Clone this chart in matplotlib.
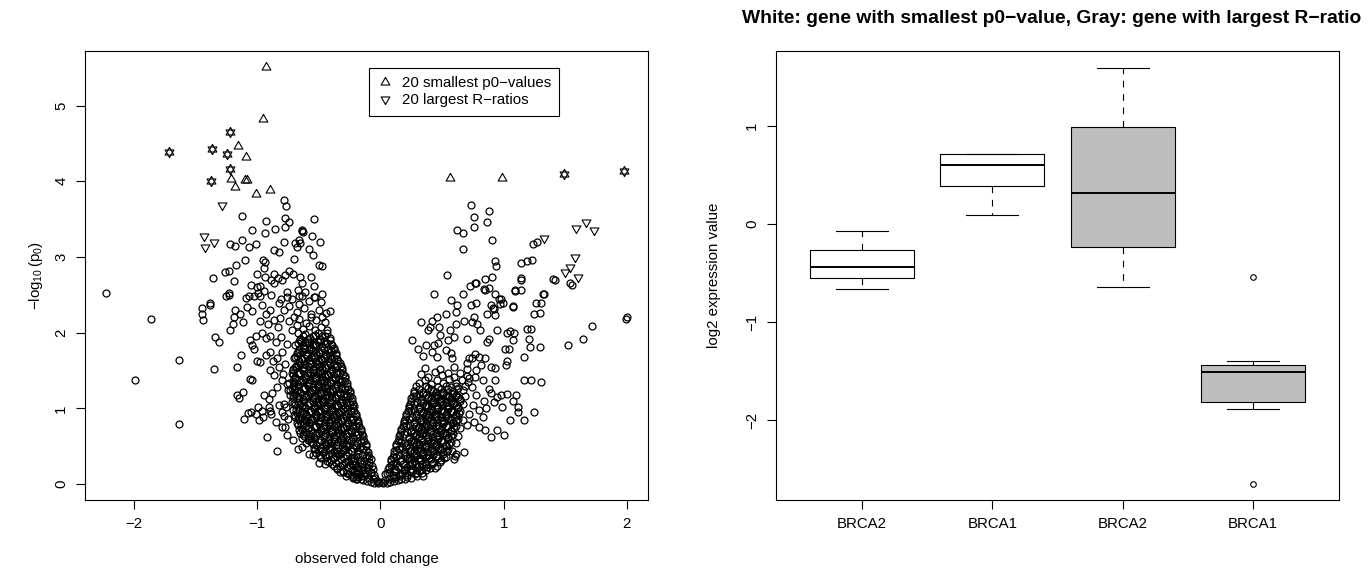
import numpy as np
import matplotlib
matplotlib.use('Agg')
import matplotlib.pyplot as plt
from matplotlib.lines import Line2D

plt.rcParams['font.family'] = ['Liberation Sans', 'DejaVu Sans']
plt.rcParams['mathtext.fontset'] = 'custom'
plt.rcParams['mathtext.rm'] = 'Liberation Sans'
plt.rcParams['mathtext.it'] = 'Liberation Sans'
plt.rcParams['mathtext.default'] = 'regular'

# ---- volcano data: (observed fold change, -log10 p0) ----
core_left = [
    (-0.02,0.01),(-0.05,0.02),(-0.08,0.03),(-0.11,0.04),(-0.14,0.05),(-0.03,0.04),(-0.06,0.06),(-0.1,0.08),
    (-0.16,0.07),(-0.18,0.09),(-0.04,0.08),(-0.13,0.1),(-0.2,0.06),(-0.22,0.08),(-0.01,0.03),
    (-0.05,0.12),(-0.08,0.15),(-0.12,0.13),(-0.16,0.11),(-0.2,0.14),(-0.24,0.12),(-0.27,0.15),(-0.3,0.17),
    (-0.1,0.19),(-0.14,0.18),(-0.19,0.19),(-0.23,0.18),(-0.06,0.2),(-0.28,0.11),(-0.33,0.16),(-0.17,0.16),
    (-0.07,0.24),(-0.11,0.22),(-0.15,0.26),(-0.19,0.23),(-0.23,0.27),(-0.27,0.22),(-0.31,0.25),(-0.35,0.21),
    (-0.39,0.26),(-0.42,0.29),(-0.09,0.29),(-0.13,0.3),(-0.21,0.3),(-0.29,0.29),(-0.36,0.28),(-0.17,0.21),
    (-0.25,0.25),(-0.33,0.24),
    (-0.08,0.33),(-0.12,0.36),(-0.16,0.32),(-0.2,0.37),(-0.24,0.34),(-0.28,0.38),(-0.32,0.33),(-0.36,0.37),
    (-0.4,0.32),(-0.44,0.36),(-0.48,0.34),(-0.1,0.39),(-0.18,0.4),(-0.26,0.31),(-0.34,0.4),(-0.42,0.39),
    (-0.5,0.38),(-0.22,0.31),(-0.3,0.36),(-0.38,0.35),
    (-0.1,0.42),(-0.14,0.46),(-0.18,0.43),(-0.22,0.47),(-0.26,0.42),(-0.3,0.45),(-0.34,0.48),(-0.38,0.43),
    (-0.42,0.47),(-0.46,0.42),(-0.5,0.45),(-0.54,0.48),(-0.12,0.5),(-0.2,0.49),(-0.28,0.5),(-0.36,0.41),
    (-0.44,0.5),(-0.52,0.41),(-0.24,0.44),(-0.32,0.41),(-0.4,0.49),(-0.48,0.47),
    (-0.12,0.53),(-0.16,0.56),(-0.2,0.52),(-0.24,0.57),(-0.28,0.53),(-0.32,0.58),(-0.36,0.52),(-0.4,0.56),
    (-0.44,0.53),(-0.48,0.58),(-0.52,0.52),(-0.56,0.56),(-0.6,0.54),(-0.14,0.6),(-0.22,0.59),(-0.3,0.55),
    (-0.38,0.6),(-0.46,0.55),(-0.54,0.6),(-0.26,0.51),(-0.34,0.55),(-0.42,0.59),(-0.5,0.55),(-0.58,0.59),
    (-0.14,0.63),(-0.18,0.66),(-0.22,0.62),(-0.26,0.67),(-0.3,0.63),(-0.34,0.68),(-0.38,0.62),(-0.42,0.66),
    (-0.46,0.63),(-0.5,0.67),(-0.54,0.62),(-0.58,0.66),(-0.62,0.64),(-0.65,0.68),(-0.16,0.7),(-0.24,0.69),
    (-0.32,0.61),(-0.4,0.7),(-0.48,0.69),(-0.56,0.61),(-0.64,0.61),(-0.2,0.65),(-0.28,0.66),(-0.36,0.65),
    (-0.44,0.68),(-0.52,0.65),(-0.6,0.69),
    (-0.16,0.73),(-0.2,0.76),(-0.24,0.72),(-0.28,0.77),(-0.32,0.73),(-0.36,0.78),(-0.4,0.72),(-0.44,0.76),
    (-0.48,0.73),(-0.52,0.77),(-0.56,0.72),(-0.6,0.76),(-0.64,0.73),(-0.67,0.78),(-0.18,0.8),(-0.26,0.79),
    (-0.34,0.71),(-0.42,0.8),(-0.5,0.79),(-0.58,0.8),(-0.66,0.71),(-0.22,0.74),(-0.3,0.75),(-0.38,0.75),
    (-0.46,0.78),(-0.54,0.75),(-0.62,0.79),
    (-0.18,0.83),(-0.22,0.86),(-0.26,0.82),(-0.3,0.87),(-0.34,0.83),(-0.38,0.88),(-0.42,0.82),(-0.46,0.86),
    (-0.5,0.83),(-0.54,0.87),(-0.58,0.82),(-0.62,0.86),(-0.66,0.84),(-0.69,0.88),(-0.2,0.9),(-0.28,0.89),
    (-0.36,0.81),(-0.44,0.9),(-0.52,0.89),(-0.6,0.9),(-0.68,0.81),(-0.24,0.84),(-0.32,0.85),(-0.4,0.85),
    (-0.48,0.88),(-0.56,0.85),(-0.64,0.89),
    (-0.2,0.93),(-0.24,0.96),(-0.28,0.92),(-0.32,0.97),(-0.36,0.93),(-0.4,0.98),(-0.44,0.92),(-0.48,0.96),
    (-0.52,0.93),(-0.56,0.97),(-0.6,0.92),(-0.64,0.96),(-0.68,0.94),(-0.71,0.98),(-0.22,1.0),(-0.3,0.99),
    (-0.38,0.91),(-0.46,1.0),(-0.54,0.99),(-0.62,1.0),(-0.7,0.91),(-0.26,0.94),(-0.34,0.95),(-0.42,0.95),
    (-0.5,0.98),(-0.58,0.95),(-0.66,0.99),
    (-0.21,1.03),(-0.25,1.06),(-0.29,1.02),(-0.33,1.07),(-0.37,1.03),(-0.41,1.08),(-0.45,1.02),(-0.49,1.06),
    (-0.53,1.03),(-0.57,1.07),(-0.61,1.02),(-0.65,1.06),(-0.69,1.04),(-0.72,1.08),(-0.23,1.1),(-0.31,1.09),
    (-0.39,1.01),(-0.47,1.1),(-0.55,1.09),(-0.63,1.1),(-0.27,1.05),(-0.35,1.05),(-0.43,1.05),(-0.51,1.08),
    (-0.59,1.05),(-0.67,1.09),
    (-0.23,1.13),(-0.27,1.16),(-0.31,1.12),(-0.35,1.17),(-0.39,1.13),(-0.43,1.18),(-0.47,1.12),(-0.51,1.16),
    (-0.55,1.13),(-0.59,1.17),(-0.63,1.12),(-0.67,1.16),(-0.71,1.14),(-0.25,1.2),(-0.33,1.19),(-0.41,1.11),
    (-0.49,1.2),(-0.57,1.19),(-0.65,1.2),(-0.29,1.15),(-0.37,1.15),(-0.45,1.15),(-0.53,1.18),(-0.61,1.15),
    (-0.69,1.19),
    (-0.25,1.23),(-0.29,1.26),(-0.33,1.22),(-0.37,1.27),(-0.41,1.23),(-0.45,1.28),(-0.49,1.22),(-0.53,1.26),
    (-0.57,1.23),(-0.61,1.27),(-0.65,1.22),(-0.69,1.26),(-0.73,1.24),(-0.27,1.3),(-0.35,1.29),(-0.43,1.21),
    (-0.51,1.3),(-0.59,1.29),(-0.67,1.3),(-0.31,1.25),(-0.39,1.25),(-0.47,1.25),(-0.55,1.28),(-0.63,1.25),
    (-0.71,1.29),
    (-0.27,1.33),(-0.31,1.36),(-0.35,1.32),(-0.39,1.37),(-0.43,1.33),(-0.47,1.38),(-0.51,1.32),(-0.55,1.36),
    (-0.59,1.33),(-0.63,1.37),(-0.67,1.32),(-0.71,1.36),(-0.74,1.34),(-0.29,1.4),(-0.37,1.39),(-0.45,1.31),
    (-0.53,1.4),(-0.61,1.39),(-0.69,1.4),(-0.33,1.35),(-0.41,1.35),(-0.49,1.35),(-0.57,1.38),(-0.65,1.35),
    (-0.29,1.43),(-0.33,1.46),(-0.37,1.42),(-0.41,1.47),(-0.45,1.43),(-0.49,1.48),(-0.53,1.42),(-0.57,1.46),
    (-0.61,1.43),(-0.65,1.47),(-0.69,1.42),(-0.72,1.46),(-0.31,1.5),(-0.39,1.49),(-0.47,1.41),(-0.55,1.5),
    (-0.63,1.49),(-0.71,1.5),(-0.35,1.45),(-0.43,1.45),(-0.51,1.45),(-0.59,1.48),(-0.67,1.45),
    (-0.31,1.53),(-0.35,1.56),(-0.39,1.52),(-0.43,1.57),(-0.47,1.53),(-0.51,1.58),(-0.55,1.52),(-0.59,1.56),
    (-0.63,1.53),(-0.67,1.57),(-0.71,1.52),(-0.33,1.6),(-0.41,1.59),(-0.49,1.51),(-0.57,1.6),(-0.65,1.59),
    (-0.37,1.55),(-0.45,1.55),(-0.53,1.55),(-0.61,1.58),(-0.69,1.55),
    (-0.34,1.63),(-0.38,1.66),(-0.42,1.62),(-0.46,1.67),(-0.5,1.63),(-0.54,1.68),(-0.58,1.62),(-0.62,1.66),
    (-0.66,1.63),(-0.7,1.67),(-0.36,1.7),(-0.44,1.69),(-0.52,1.61),(-0.6,1.7),(-0.68,1.69),(-0.4,1.65),
    (-0.48,1.65),(-0.56,1.68),(-0.64,1.65),
    (-0.36,1.73),(-0.4,1.76),(-0.44,1.72),(-0.48,1.77),(-0.52,1.73),(-0.56,1.78),(-0.6,1.72),(-0.64,1.76),
    (-0.68,1.73),(-0.38,1.8),(-0.46,1.79),(-0.54,1.71),(-0.62,1.8),(-0.42,1.75),(-0.5,1.75),(-0.58,1.78),
    (-0.66,1.79),
    (-0.39,1.83),(-0.43,1.86),(-0.47,1.82),(-0.51,1.87),(-0.55,1.83),(-0.59,1.88),(-0.63,1.82),(-0.67,1.86),
    (-0.41,1.9),(-0.49,1.89),(-0.57,1.81),(-0.65,1.9),(-0.45,1.85),(-0.53,1.85),(-0.61,1.87),(-0.69,1.84),
    (-0.41,1.93),(-0.45,1.96),(-0.49,1.92),(-0.53,1.97),(-0.57,1.93),(-0.61,1.98),(-0.65,1.92),(-0.43,2.0),
    (-0.51,1.99),(-0.59,1.91),(-0.67,1.99),(-0.47,1.95),(-0.55,1.95),(-0.63,1.96),
    (-0.43,2.04),(-0.48,2.08),(-0.53,2.03),(-0.58,2.09),(-0.63,2.05),(-0.68,2.1),(-0.72,2.04),(-0.45,2.14),
    (-0.52,2.17),(-0.6,2.13),(-0.66,2.18),(-0.74,2.15),(-0.56,2.2),(-0.47,2.2),(-0.7,2.21),
    (-0.44,2.26),(-0.5,2.3),(-0.56,2.24),(-0.62,2.33),(-0.68,2.27),(-0.74,2.35),(-0.48,2.4),(-0.58,2.42),
    (-0.66,2.38),(-0.72,2.45),(-0.54,2.47),(-0.78,2.3),(-0.64,2.49),
]

# more circles packed in between, the left arm is solid black
core_left_fill = [
    (-0.073,0.165),(-0.127,0.145),(-0.213,0.165),(-0.257,0.135),(-0.093,0.255),(-0.167,0.275),
    (-0.207,0.245),(-0.293,0.265),(-0.373,0.235),
    (-0.093,0.355),(-0.147,0.385),(-0.213,0.345),(-0.267,0.365),(-0.333,0.385),(-0.387,0.345),
    (-0.453,0.385),(-0.493,0.355),
    (-0.113,0.455),(-0.167,0.485),(-0.233,0.435),(-0.287,0.465),(-0.353,0.435),(-0.407,0.455),
    (-0.473,0.435),(-0.527,0.465),
    (-0.133,0.565),(-0.187,0.545),(-0.253,0.585),(-0.307,0.535),(-0.373,0.565),(-0.427,0.545),
    (-0.493,0.585),(-0.547,0.535),(-0.587,0.575),
    (-0.153,0.655),(-0.207,0.685),(-0.273,0.635),(-0.327,0.655),(-0.393,0.685),(-0.447,0.645),
    (-0.513,0.675),(-0.567,0.635),(-0.627,0.665),
    (-0.173,0.765),(-0.227,0.785),(-0.293,0.735),(-0.347,0.765),(-0.413,0.785),(-0.467,0.745),
    (-0.533,0.765),(-0.587,0.735),(-0.647,0.775),
    (-0.193,0.855),(-0.247,0.885),(-0.313,0.835),(-0.367,0.865),(-0.433,0.885),(-0.487,0.845),
    (-0.553,0.865),(-0.607,0.835),(-0.667,0.875),
    (-0.213,0.965),(-0.267,0.985),(-0.333,0.935),(-0.387,0.965),(-0.453,0.985),(-0.507,0.945),
    (-0.573,0.965),(-0.627,0.935),(-0.687,0.975),
    (-0.223,1.055),(-0.277,1.085),(-0.343,1.035),(-0.397,1.065),(-0.463,1.085),(-0.517,1.045),
    (-0.583,1.065),(-0.637,1.035),(-0.697,1.075),
    (-0.243,1.165),(-0.297,1.185),(-0.363,1.135),(-0.417,1.165),(-0.483,1.185),(-0.537,1.145),
    (-0.603,1.165),(-0.657,1.135),(-0.707,1.175),
    (-0.263,1.255),(-0.317,1.285),(-0.383,1.235),(-0.437,1.265),(-0.503,1.285),(-0.557,1.245),
    (-0.623,1.265),(-0.677,1.235),(-0.717,1.275),
    (-0.283,1.365),(-0.337,1.385),(-0.403,1.335),(-0.457,1.365),(-0.523,1.385),(-0.577,1.345),
    (-0.643,1.365),(-0.697,1.335),
    (-0.303,1.455),(-0.357,1.485),(-0.423,1.435),(-0.477,1.465),(-0.543,1.485),(-0.597,1.445),
    (-0.663,1.465),(-0.707,1.435),
    (-0.323,1.565),(-0.377,1.585),(-0.443,1.535),(-0.497,1.565),(-0.563,1.585),(-0.617,1.545),
    (-0.683,1.565),
    (-0.353,1.655),(-0.407,1.685),(-0.473,1.635),(-0.527,1.665),(-0.593,1.685),(-0.647,1.645),
    (-0.693,1.675),
    (-0.373,1.765),(-0.427,1.785),(-0.493,1.735),(-0.547,1.765),(-0.613,1.785),(-0.667,1.745),
    (-0.403,1.855),(-0.457,1.885),(-0.523,1.835),(-0.577,1.865),(-0.643,1.885),
]

core_right = [
    (0.02,0.01),(0.05,0.02),(0.08,0.03),(0.11,0.04),(0.14,0.05),(0.17,0.06),(0.2,0.07),(0.04,0.05),
    (0.07,0.07),(0.1,0.08),(0.13,0.09),(0.22,0.09),(0.25,0.08),(0.16,0.1),(0.01,0.03),
    (0.04,0.13),(0.07,0.16),(0.1,0.12),(0.13,0.17),(0.16,0.13),(0.19,0.18),(0.22,0.12),(0.25,0.16),
    (0.28,0.13),(0.31,0.17),(0.34,0.14),(0.37,0.19),(0.06,0.2),(0.12,0.2),(0.2,0.15),(0.26,0.2),
    (0.3,0.11),(0.35,0.11),
    (0.07,0.23),(0.1,0.26),(0.14,0.22),(0.18,0.27),(0.22,0.23),(0.26,0.28),(0.3,0.22),(0.34,0.26),
    (0.38,0.23),(0.42,0.27),(0.46,0.24),(0.09,0.3),(0.16,0.3),(0.24,0.25),(0.32,0.3),(0.4,0.21),
    (0.48,0.29),(0.2,0.2),(0.28,0.26),(0.36,0.29),(0.44,0.21),
    (0.09,0.33),(0.13,0.36),(0.17,0.32),(0.21,0.37),(0.25,0.33),(0.29,0.38),(0.33,0.32),(0.37,0.36),
    (0.41,0.33),(0.45,0.37),(0.49,0.32),(0.53,0.36),(0.11,0.4),(0.19,0.39),(0.27,0.31),(0.35,0.4),
    (0.43,0.39),(0.51,0.4),(0.23,0.35),(0.31,0.35),(0.39,0.38),(0.47,0.35),
    (0.11,0.43),(0.15,0.46),(0.19,0.42),(0.23,0.47),(0.27,0.43),(0.31,0.48),(0.35,0.42),(0.39,0.46),
    (0.43,0.43),(0.47,0.47),(0.51,0.42),(0.55,0.46),(0.58,0.44),(0.13,0.5),(0.21,0.49),(0.29,0.41),
    (0.37,0.5),(0.45,0.49),(0.53,0.5),(0.25,0.45),(0.33,0.45),(0.41,0.48),(0.49,0.45),
    (0.13,0.53),(0.17,0.56),(0.21,0.52),(0.25,0.57),(0.29,0.53),(0.33,0.58),(0.37,0.52),(0.41,0.56),
    (0.45,0.53),(0.49,0.57),(0.53,0.52),(0.57,0.56),(0.61,0.54),(0.15,0.6),(0.23,0.59),(0.31,0.51),
    (0.39,0.6),(0.47,0.59),(0.55,0.6),(0.27,0.55),(0.35,0.55),(0.43,0.58),(0.51,0.55),
    (0.15,0.63),(0.19,0.66),(0.23,0.62),(0.27,0.67),(0.31,0.63),(0.35,0.68),(0.39,0.62),(0.43,0.66),
    (0.47,0.63),(0.51,0.67),(0.55,0.62),(0.59,0.66),(0.63,0.64),(0.17,0.7),(0.25,0.69),(0.33,0.61),
    (0.41,0.7),(0.49,0.69),(0.57,0.7),(0.29,0.65),(0.37,0.65),(0.45,0.68),(0.53,0.65),
    (0.17,0.73),(0.21,0.76),(0.25,0.72),(0.29,0.77),(0.33,0.73),(0.37,0.78),(0.41,0.72),(0.45,0.76),
    (0.49,0.73),(0.53,0.77),(0.57,0.72),(0.61,0.76),(0.65,0.74),(0.19,0.8),(0.27,0.79),(0.35,0.71),
    (0.43,0.8),(0.51,0.79),(0.59,0.8),(0.31,0.75),(0.39,0.75),(0.47,0.78),(0.55,0.75),
    (0.19,0.83),(0.23,0.86),(0.27,0.82),(0.31,0.87),(0.35,0.83),(0.39,0.88),(0.43,0.82),(0.47,0.86),
    (0.51,0.83),(0.55,0.87),(0.59,0.82),(0.63,0.86),(0.67,0.84),(0.21,0.9),(0.29,0.89),(0.37,0.81),
    (0.45,0.9),(0.53,0.89),(0.61,0.9),(0.33,0.85),(0.41,0.85),(0.49,0.88),(0.57,0.85),
    (0.21,0.93),(0.25,0.96),(0.29,0.92),(0.33,0.97),(0.37,0.93),(0.41,0.98),(0.45,0.92),(0.49,0.96),
    (0.53,0.93),(0.57,0.97),(0.61,0.92),(0.65,0.96),(0.23,1.0),(0.31,0.99),(0.39,0.91),(0.47,1.0),
    (0.55,0.99),(0.63,1.0),(0.35,0.95),(0.43,0.95),(0.51,0.98),(0.59,0.95),
    (0.23,1.03),(0.27,1.06),(0.31,1.02),(0.35,1.07),(0.39,1.03),(0.43,1.08),(0.47,1.02),(0.51,1.06),
    (0.55,1.03),(0.59,1.07),(0.63,1.02),(0.67,1.06),(0.25,1.1),(0.33,1.09),(0.41,1.01),(0.49,1.1),
    (0.57,1.09),(0.65,1.1),(0.37,1.05),(0.45,1.05),(0.53,1.08),(0.61,1.05),
    (0.25,1.13),(0.29,1.16),(0.33,1.12),(0.37,1.17),(0.41,1.13),(0.45,1.18),(0.49,1.12),(0.53,1.16),
    (0.57,1.13),(0.61,1.17),(0.65,1.12),(0.69,1.16),(0.27,1.2),(0.35,1.19),(0.43,1.11),(0.51,1.2),
    (0.59,1.19),(0.39,1.15),(0.47,1.15),(0.55,1.18),(0.63,1.15),
    (0.27,1.23),(0.31,1.26),(0.35,1.22),(0.39,1.27),(0.43,1.23),(0.47,1.28),(0.51,1.22),(0.55,1.26),
    (0.59,1.23),(0.63,1.27),(0.67,1.24),(0.29,1.3),(0.37,1.29),(0.45,1.21),(0.53,1.3),(0.61,1.29),
    (0.41,1.25),(0.49,1.25),(0.57,1.28),(0.69,1.3),
    (0.31,1.33),(0.36,1.38),(0.41,1.32),(0.46,1.37),(0.51,1.34),(0.56,1.39),(0.61,1.33),(0.66,1.37),
    (0.71,1.35),(0.33,1.45),(0.39,1.42),(0.44,1.48),(0.5,1.44),(0.55,1.47),(0.6,1.42),(0.65,1.46),(0.7,1.43),
    (0.36,1.53),(0.48,1.52),(0.6,1.54),(0.7,1.52),(0.46,1.68),(0.58,1.67),(0.72,1.66),
    (0.42,1.74),(0.57,1.73),(0.55,1.9),(0.7,1.92),(0.48,1.97),
]

core_right_fill = [
    (0.053,0.145),(0.117,0.165),(0.177,0.145),(0.237,0.175),(0.297,0.145),(0.327,0.185),
    (0.083,0.255),(0.123,0.275),(0.197,0.245),(0.253,0.265),(0.317,0.235),(0.367,0.255),(0.427,0.275),
    (0.103,0.355),(0.153,0.385),(0.217,0.345),(0.273,0.365),(0.337,0.385),(0.397,0.345),(0.457,0.375),
    (0.513,0.345),
    (0.123,0.455),(0.177,0.485),(0.243,0.435),(0.297,0.465),(0.363,0.485),(0.417,0.445),(0.483,0.465),
    (0.537,0.435),
    (0.143,0.565),(0.197,0.545),(0.263,0.585),(0.317,0.535),(0.383,0.565),(0.437,0.545),(0.503,0.585),
    (0.557,0.535),
    (0.163,0.655),(0.217,0.685),(0.283,0.635),(0.337,0.655),(0.403,0.685),(0.457,0.645),(0.523,0.675),
    (0.577,0.635),
    (0.183,0.765),(0.237,0.785),(0.303,0.735),(0.357,0.765),(0.423,0.785),(0.477,0.745),(0.543,0.765),
    (0.597,0.735),
    (0.203,0.855),(0.257,0.885),(0.323,0.835),(0.377,0.865),(0.443,0.885),(0.497,0.845),(0.563,0.865),
    (0.617,0.835),
    (0.223,0.965),(0.277,0.985),(0.343,0.935),(0.397,0.965),(0.463,0.985),(0.517,0.945),(0.583,0.965),
    (0.637,0.935),
    (0.243,1.055),(0.297,1.085),(0.363,1.035),(0.417,1.065),(0.483,1.085),(0.537,1.045),(0.603,1.065),
    (0.263,1.165),(0.317,1.185),(0.383,1.135),(0.437,1.165),(0.503,1.185),(0.557,1.145),(0.617,1.165),
]

sparse_left = [
    (-2.23,2.52),(-1.865,2.18),(-1.635,1.64),(-1.99,1.37),(-1.635,0.79),
    (-1.352,1.515),(-1.345,1.94),(-1.313,1.87),(-1.45,2.32),(-1.445,2.25),(-1.44,2.17),(-1.38,2.37),
    (-1.25,2.48),(-1.227,2.52),(-1.182,2.30),(-1.19,2.21),(-1.138,2.25),(-1.115,2.14),(-1.224,2.03),
    (-1.195,2.11),(-1.16,1.54),(-1.135,1.71),(-1.16,1.17),(-1.147,1.14),(-1.115,1.22),(-1.105,0.86),
    (-1.073,0.94),(-1.048,0.95),(-1.01,0.92),(-0.993,1.02),(-0.961,0.97),(-0.951,0.89),(-0.983,0.84),
    (-0.906,1.02),(-0.897,0.96),(-0.885,0.93),(-0.945,1.17),(-0.904,1.12),(-1.057,1.39),(-1.041,1.37),
    (-1.0,1.63),(-0.977,1.61),(-1.025,1.79),(-1.057,1.90),(-1.009,1.95),(-1.041,1.83),
    (-1.09,2.46),(-1.025,2.49),(-0.993,2.52),(-0.945,2.55),(-1.083,2.34),(-1.038,2.29),(-0.961,2.36),
    (-0.929,2.25),(-0.897,2.30),(-0.977,2.16),(-0.913,2.12),(-0.865,2.17),(-0.833,2.07),(-0.817,2.19),
    (-0.96,1.99),(-0.93,1.93),(-0.897,1.96),(-0.849,1.88),(-0.807,1.94),(-0.929,1.70),(-0.897,1.74),
    (-0.872,1.63),(-0.84,1.66),(-0.897,1.50),(-0.865,1.44),(-0.826,1.55),(-0.8,1.37),(-0.84,1.28),
    (-0.916,0.62),(-0.839,0.44),(-0.8,0.75),(-0.775,0.75),(-0.752,0.86),(-0.785,1.06),(-0.768,1.02),
    (-0.8,0.95),(-0.752,1.24),(-0.737,1.17),(-0.705,0.577),(-0.672,0.467),(-0.64,0.49),(-0.576,0.40),
    (-0.544,0.38),(-0.496,0.28),(-0.448,0.27),(-0.432,0.31),(-0.351,0.20),(-0.303,0.16),(-0.223,0.09),
    (-0.191,0.07),(-0.76,0.65),(-0.78,0.9),(-0.82,1.05),(-0.76,1.32),(-0.79,1.45),(-0.85,0.82),
    (-0.88,1.2),(-0.77,1.58),(-0.8,1.75),(-0.76,1.85),
    (-0.779,3.75),(-0.768,3.67),(-0.538,3.50),(-1.12,3.54),(-0.93,3.48),(-0.775,3.515),(-0.745,3.46),
    (-0.77,3.39),(-0.855,3.37),(-1.04,3.35),(-0.94,3.32),(-0.636,3.34),(-0.63,3.33),(-0.64,3.35),
    (-0.558,3.28),(-0.66,3.22),(-0.65,3.18),(-0.49,3.20),(-1.222,3.17),(-1.182,3.15),(-1.123,3.22),
    (-1.068,3.13),(-1.006,3.17),(-0.785,3.2),(-0.69,3.18),(-0.68,3.13),(-0.86,3.09),(-0.82,3.06),
    (-0.58,3.10),(-0.545,3.03),(-1.098,2.955),(-0.953,2.955),(-0.94,2.93),(-0.946,2.85),(-0.70,2.97),
    (-0.50,2.89),(-0.47,2.88),(-1.17,2.89),(-1.23,2.82),(-1.26,2.80),(-1.36,2.72),(-1.00,2.77),
    (-0.94,2.74),(-0.86,2.78),(-0.83,2.72),(-0.80,2.70),(-0.77,2.76),(-0.74,2.82),(-0.71,2.78),
    (-0.885,2.70),(-0.865,2.65),(-0.655,2.73),(-0.636,2.65),(-0.56,2.74),(-0.54,2.62),(-1.19,2.68),
    (-1.05,2.63),(-1.0,2.60),(-0.98,2.62),(-1.23,2.50),(-1.38,2.39),(-1.07,2.48),(-0.98,2.48),
    (-0.89,2.50),(-0.82,2.39),(-0.81,2.44),(-0.76,2.53),(-0.755,2.47),(-0.67,2.56),(-0.66,2.48),
    (-0.61,2.53),(-0.53,2.47),(-0.47,2.51),(-0.41,2.29),
]

sparse_right = [
    (0.736,3.68),(0.763,3.53),(0.88,3.60),(0.864,3.46),(0.758,3.39),(0.625,3.36),(0.674,3.32),
    (0.907,3.23),(0.674,3.11),(1.237,3.17),(1.27,3.20),(0.93,2.95),(0.94,2.88),(1.142,2.92),(1.19,2.95),
    (1.234,2.96),(0.54,2.76),(0.777,2.66),(0.847,2.71),(0.91,2.74),(0.846,2.56),(1.14,2.72),(1.14,2.69),
    (1.40,2.71),(1.092,2.56),(1.54,2.65),(1.323,2.51),(0.436,2.51),(0.671,2.51),(0.726,2.62),
    (0.88,2.59),(0.98,2.45),(0.972,2.38),(0.896,2.36),(0.925,2.31),(1.075,2.35),(0.571,2.43),(0.62,2.36),
    (0.739,2.36),(0.777,2.39),(1.262,2.39),(1.30,2.39),(1.99,2.185),(2.005,2.20),
    (0.772,2.65),(0.843,2.57),(0.932,2.51),(1.093,2.55),(1.141,2.56),(1.33,2.51),(1.414,2.69),
    (0.964,2.45),(0.997,2.39),(0.916,2.32),(0.868,2.25),(0.932,2.23),(1.077,2.34),(1.292,2.26),
    (1.244,2.24),(1.558,2.63),(1.718,2.09),(1.648,1.91),(1.526,1.83),(1.292,1.81),(1.205,1.92),
    (1.188,2.05),(1.22,2.05),(1.214,1.81),(1.051,2.02),(1.029,1.99),(1.087,1.99),(1.077,1.90),
    (1.013,1.79),(1.045,1.78),(1.029,1.63),(1.019,1.57),(1.163,1.68),(0.948,2.03),(0.884,1.92),
    (0.868,1.88),(0.81,2.03),(0.788,2.12),(0.74,2.14),(0.756,2.21),(0.611,2.27),(0.531,2.25),
    (0.457,2.21),(0.419,2.16),(0.563,2.03),(0.611,2.12),(0.675,2.16),(0.329,2.14),(0.403,2.07),
    (0.387,2.03),(0.477,2.08),(0.467,1.86),(0.435,1.83),(0.371,1.83),(0.258,1.90),(0.306,1.79),
    (0.345,1.69),(0.531,1.77),(0.595,1.94),(0.772,1.72),(0.804,1.68),(0.852,1.67),(0.9,1.55),
    (0.932,1.53),(0.82,1.57),(0.772,1.41),(0.836,1.37),(0.932,1.37),(0.9,1.20),(0.948,1.15),(0.98,1.17),
    (1.029,1.19),(1.1,1.17),(0.99,1.02),(1.116,1.02),(1.164,1.37),(1.22,1.37),(1.3,1.35),(1.164,0.84),
    (1.25,0.95),(0.836,0.89),(0.852,0.71),(0.804,0.75),(0.675,0.42),(0.595,0.33),(0.605,0.37),
    (0.611,0.40),(0.72,0.92),(0.75,1.05),(0.78,1.18),(0.74,1.28),(0.8,0.98),(0.84,1.1),(0.88,1.25),
    (0.76,0.82),(0.7,0.78),(0.86,1.0),(0.92,1.08),(0.72,1.4),(0.78,1.5),(0.7,1.6),(0.74,1.66),
    (0.95,0.72),(1.05,0.85),(1.0,0.65),(0.9,0.62),(1.12,0.95),(1.08,1.1),
]

# genes in the 20 smallest p0-values only / 20 largest R-ratios only / in both
top_p_fc = [-0.93, -0.95, -1.157, -1.093, -1.214, -1.18, -1.10, -1.08, -1.01, -0.895, 0.566, 0.99]
top_p_lp = [5.51, 4.82, 4.47, 4.32, 4.03, 3.93, 4.02, 4.02, 3.83, 3.89, 4.04, 4.04]
top_r_fc = [-1.285, -1.433, -1.352, -1.42, 1.59, 1.67, 1.735, 1.33, 1.58, 1.535, 1.50, 1.60]
top_r_lp = [3.68, 3.28, 3.20, 3.13, 3.38, 3.465, 3.355, 3.25, 3.0, 2.87, 2.80, 2.73]
top_both_fc = [-1.22, -1.715, -1.366, -1.247, -1.22, -1.374, 1.494, 1.976]
top_both_lp = [4.65, 4.38, 4.43, 4.36, 4.16, 4.0, 4.10, 4.14]

# ---- boxplot data (log2 expression value) ----
box_names = ['BRCA2', 'BRCA1', 'BRCA2', 'BRCA1']
box_whislo = [-0.667, 0.095, -0.643, -1.891]
box_q1 = [-0.555, 0.388, -0.238, -1.816]
box_med = [-0.44, 0.605, 0.313, -1.514]
box_q3 = [-0.27, 0.711, 0.993, -1.439]
box_whishi = [-0.075, 0.718, 1.595, -1.395]
box_fliers = [[], [], [], [-0.537, -2.65]]
box_fill = ['white', 'white', '#BEBEBE', '#BEBEBE']

FS = 10.8
W, H = 1372, 574
fig = plt.figure(figsize=(W / 100, H / 100), dpi=100)
ax1 = fig.add_axes([85 / W, 74 / H, 563 / W, 449 / H])
ax2 = fig.add_axes([776 / W, 74 / H, 563 / W, 449 / H])

up_m = [(0, 1.155), (-1, -0.577), (1, -0.577), (0, 1.155)]
dn_m = [(0, -1.155), (-1, 0.577), (1, 0.577), (0, -1.155)]

pts = np.array(core_left + core_left_fill + core_right + core_right_fill + sparse_left + sparse_right)
ax1.plot(pts[:, 0], pts[:, 1], ls='none', marker='o', ms=5.0, mfc='none', mec='black', mew=0.9)
ax1.plot(top_p_fc + top_both_fc, top_p_lp + top_both_lp, ls='none', marker=up_m, ms=7.3,
         mfc='none', mec='black', mew=0.8)
ax1.plot(top_r_fc + top_both_fc, top_r_lp + top_both_lp, ls='none', marker=dn_m, ms=7.3,
         mfc='none', mec='black', mew=0.8)

handles = [Line2D([], [], ls='none', marker=up_m, ms=7.3, mfc='none', mec='black', mew=0.8),
           Line2D([], [], ls='none', marker=dn_m, ms=7.3, mfc='none', mec='black', mew=0.8)]
leg = ax1.legend(handles, ['20 smallest p0\u2212values', '20 largest R\u2212ratios'],
                 loc='upper left', bbox_to_anchor=(0.505, 0.962), fontsize=FS,
                 frameon=True, fancybox=False, framealpha=1, edgecolor='black',
                 borderpad=0.55, handlelength=1.0, handletextpad=0.6, labelspacing=0.2,
                 borderaxespad=0)
leg.get_frame().set_linewidth(0.8)

ax1.set_xlim(-2.397, 2.172)
ax1.set_ylim(-0.211, 5.72)
ax1.set_xticks([-2, -1, 0, 1, 2])
ax1.set_yticks([0, 1, 2, 3, 4, 5])

# ---- boxplot ----
stats = []
for i in range(4):
    stats.append(dict(whislo=box_whislo[i], q1=box_q1[i], med=box_med[i], q3=box_q3[i],
                      whishi=box_whishi[i], fliers=box_fliers[i]))
bp = ax2.bxp(stats, positions=[1, 2, 3, 4], widths=0.8, capwidths=0.4, patch_artist=True,
             boxprops=dict(edgecolor='black', linewidth=0.8),
             whiskerprops=dict(color='black', linewidth=0.8, linestyle=(0, (6, 6))),
             capprops=dict(color='black', linewidth=0.8),
             medianprops=dict(color='black', linewidth=1.4, solid_capstyle='butt'),
             flierprops=dict(marker='o', ms=4.0, mfc='none', mec='black', mew=0.8))
for patch, c in zip(bp['boxes'], box_fill):
    patch.set_facecolor(c)

ax2.set_xlim(0.34, 4.66)
ax2.set_ylim(-2.816, 1.765)
ax2.set_xticks([1, 2, 3, 4])
ax2.set_xticklabels(box_names)
ax2.set_yticks([-2, -1, 0, 1])
ax2.set_title('White: gene with smallest p0\u2212value, Gray: gene with largest R\u2212ratio',
              fontsize=13.9, fontweight='bold', pad=20, x=0.49)

for ax in (ax1, ax2):
    for s in ax.spines.values():
        s.set_linewidth(0.8)
    ax.tick_params(direction='out', length=6.5, width=0.8, pad=5.5, labelsize=FS)
    ax.tick_params(axis='y', labelrotation=90)
    for lab in ax.get_yticklabels():
        lab.set_va('center')

fig.text(366.5 / W, 1 - 559 / H, 'observed fold change', ha='center', va='center', fontsize=FS)
fig.text(36 / W, 1 - 275.5 / H, r'$-\log_{10}(p_0)$', ha='center', va='center',
         rotation=90, fontsize=FS)
fig.text(714 / W, 1 - 275.5 / H, 'log2 expression value', ha='center', va='center',
         rotation=90, fontsize=FS)

fig.savefig('out.png', dpi=100)
